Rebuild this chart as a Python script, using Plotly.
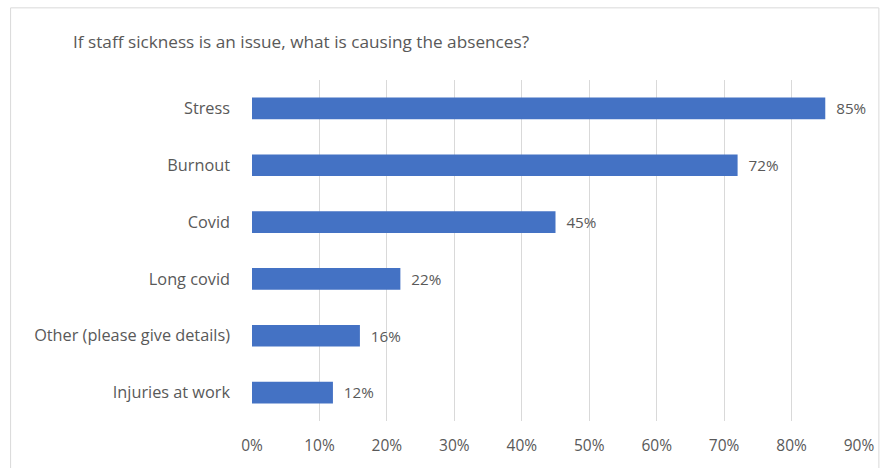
import plotly.graph_objects as go

categories = ["Stress", "Burnout", "Covid", "Long covid", "Other (please give details)", "Injuries at work"]
values = [0.85, 0.72, 0.45, 0.22, 0.16, 0.12]
labels = ["85%", "72%", "45%", "22%", "16%", "12%"]
tick_vals = [0, 0.1, 0.2, 0.3, 0.4, 0.5, 0.6, 0.7, 0.8, 0.9]

W, H = 886, 468
L_s, R_s, T_s, B_s = 252, 863, 80, 425
L, T = L_s, T_s
R = W - R_s
B = H - B_s
pw, ph = W - L - R, H - T - B

def px_x(p):
    return (p - L) / pw

def px_y(p):
    return (H - B - p) / ph

font_family = "'Open Sans', sans-serif"
txt_color = "#595959"

fig = go.Figure(go.Bar(
    y=categories,
    x=values,
    orientation="h",
    marker=dict(color="#4472C4", line=dict(width=0)),
    text=["  " + t for t in labels],
    textposition="outside",
    textfont=dict(size=15.5, color=txt_color, family=font_family),
    cliponaxis=False,
    width=0.38,
    hoverinfo="skip",
))

fig.update_layout(
    width=W, height=H,
    margin=dict(l=L, r=R, t=T, b=B, pad=0),
    paper_bgcolor="white",
    plot_bgcolor="white",
    showlegend=False,
    title=dict(
        text="If staff sickness is an issue, what is causing the absences?",
        x=73 / W, xanchor="left",
        y=1 - 42 / H, yanchor="middle",
        font=dict(size=17.2, color=txt_color, family=font_family),
    ),
    xaxis=dict(
        range=[0, 0.9],
        tickvals=tick_vals,
        tickformat=".0%",
        showgrid=True,
        gridcolor="#d9d9d9",
        gridwidth=1,
        zeroline=False,
        showline=False,
        ticks="",
        tickfont=dict(size=15.5, color=txt_color, family=font_family),
        ticklabelstandoff=13,
    ),
    yaxis=dict(
        categoryorder="array",
        categoryarray=categories[::-1],
        showgrid=False,
        showline=False,
        zeroline=False,
        ticks="",
        ticklabelstandoff=21,
        tickfont=dict(size=16.3, color=txt_color, family=font_family),
    ),
    shapes=[
        dict(type="rect", xref="paper", yref="paper",
             x0=px_x(9), x1=px_x(883), y0=px_y(480), y1=px_y(7),
             line=dict(color="#d9d9d9", width=1), fillcolor="rgba(0,0,0,0)", layer="below"),
    ],
)

fig.write_html(
    "out.html",
    config={"displayModeBar": False},
    post_script="document.body.style.margin='0px'; document.body.style.overflow='hidden';",
)
